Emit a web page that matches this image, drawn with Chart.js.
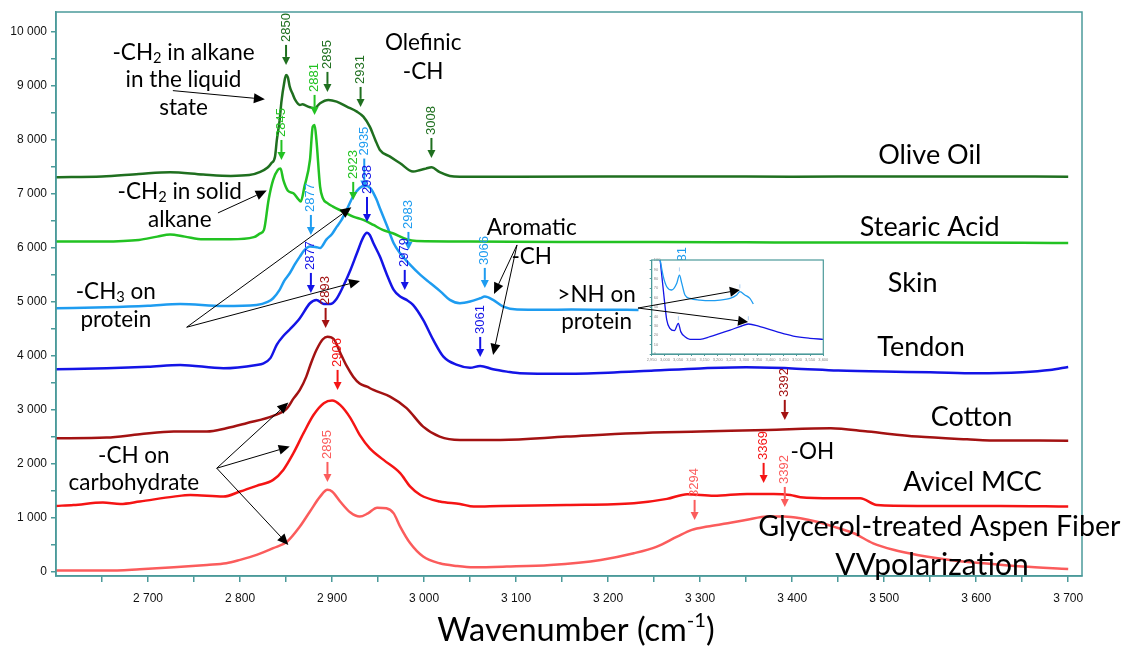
<!DOCTYPE html>
<html>
<head>
<meta charset="utf-8">
<script src="https://cdn.jsdelivr.net/npm/chart.js@4.4.1/dist/chart.umd.min.js"></script>
<style>
  html, body { margin: 0; padding: 0; background: #fff; }
  #wrap { position: relative; width: 1124px; height: 650px; }
  #main { position: absolute; left: 0; top: 0; }
  #inset { position: absolute; left: 630px; top: 255px; }
</style>
</head>
<body>
<div id="wrap">
  <canvas id="main" width="1124" height="650"></canvas>
  <canvas id="inset" width="200" height="110"></canvas>
</div>
<script>
// ---- Raman spectra, C-H / O-H stretching region (wavenumber, offset intensity) ----
const oliveWn  = [2600,2650,2690,2724,2760,2790,2810,2822,2830,2834,2838,2840,2843,2845,2848,2850,2852,2854,2857,2860,2865,2868,2871,2876,2881,2887,2896,2905,2916,2927,2934,2941,2947,2952,2963,2974,2988,2996,3002,3008,3017,3028,3039,3100,3200,3300,3400,3500,3600,3700];
const oliveInt = [7300,7315,7360,7393,7350,7325,7340,7400,7480,7560,7681,7991,8350,8700,9050,9194,9150,8978,8850,8731,8639,8650,8630,8596,8577,8670,8731,8700,8608,8515,8422,8237,7991,7806,7681,7559,7404,7435,7460,7485,7393,7324,7311,7310,7312,7315,7310,7315,7315,7311];

const stearicWn  = [2600,2650,2690,2710,2724,2740,2760,2790,2815,2822,2826,2831,2836,2841,2844,2847,2852,2858,2863,2866,2870,2876,2879,2881,2883,2887,2890,2895,2901,2912,2923,2934,2945,2955,2966,2981,2992,3050,3150,3250,3350,3450,3550,3650,3700];
const stearicInt = [6108,6110,6139,6200,6240,6200,6150,6150,6190,6260,6324,6880,7250,7435,7460,7250,7050,7003,6900,6849,7126,7620,8237,8269,7991,7126,6911,6820,6756,6663,6570,6509,6416,6324,6262,6151,6120,6110,6100,6100,6095,6090,6090,6085,6080];

const skinWn  = [2600,2655,2700,2735,2782,2818,2830,2836,2843,2848,2854,2860,2865,2870,2876,2882,2887,2894,2900,2905,2910,2916,2923,2930,2936,2942,2948,2952,2960,2967,2974,2985,2996,3007,3018,3028,3039,3050,3061,3066,3075,3086,3101,3130,3160,3200,3233];
const skinInt = [4873,4892,4920,4954,4917,4935,4990,5059,5213,5380,5522,5700,5830,5950,6015,6010,5990,6150,6250,6380,6500,6700,6950,7100,7140,7090,6900,6725,6386,6077,5892,5676,5491,5337,5182,5028,4966,4997,5059,5090,5028,4904,4850,4845,4850,4845,4843];

const tendonWn  = [2600,2655,2700,2735,2782,2818,2825,2833,2840,2847,2854,2865,2876,2883,2891,2898,2905,2912,2920,2927,2934,2938,2941,2945,2952,2959,2967,2974,2981,2988,2999,3010,3021,3036,3050,3061,3075,3090,3104,3150,3200,3250,3300,3350,3400,3450,3500,3550,3600,3650,3680,3700];
const tendonInt = [3744,3762,3790,3824,3762,3824,3850,3950,4200,4360,4480,4690,4966,5028,4954,4950,5050,5275,5583,5892,6190,6270,6230,6077,5830,5522,5213,5090,5028,4935,4657,4287,3978,3824,3770,3806,3744,3700,3670,3660,3680,3720,3760,3780,3760,3720,3700,3690,3670,3690,3730,3787];

const cottonWn  = [2600,2655,2691,2728,2764,2785,2807,2836,2851,2858,2865,2872,2877,2883,2890,2895,2902,2909,2916,2923,2930,2938,2945,2963,2981,2999,3017,3039,3083,3155,3228,3300,3373,3442,3482,3536,3590,3626,3700];
const cottonInt = [2466,2478,2540,2590,2590,2650,2744,2880,3020,3200,3360,3607,3850,4100,4300,4348,4300,4045,3800,3607,3480,3420,3360,3237,3025,2681,2496,2435,2435,2497,2559,2590,2620,2651,2590,2497,2447,2423,2422];

const avicelWn  = [2600,2619,2651,2670,2691,2728,2746,2782,2800,2818,2836,2847,2858,2869,2880,2891,2900,2909,2920,2930,2941,2956,2974,2985,2996,3017,3039,3054,3083,3155,3228,3264,3286,3315,3351,3380,3398,3409,3445,3474,3492,3536,3626,3700];
const avicelInt = [1213,1230,1275,1250,1295,1385,1415,1385,1480,1585,1695,1880,2190,2560,2900,3115,3165,3080,2840,2530,2280,2065,1820,1570,1415,1295,1250,1200,1213,1230,1262,1343,1430,1400,1435,1435,1415,1375,1355,1355,1230,1213,1213,1200];

const glycerolWn  = [2600,2655,2691,2728,2764,2785,2800,2818,2836,2851,2865,2876,2887,2895,2900,2909,2920,2930,2939,2949,2959,2967,2974,2985,2999,3017,3036,3054,3090,3137,3192,3228,3253,3275,3291,3308,3330,3351,3373,3391,3409,3427,3445,3467,3488,3510,3536,3572,3608,3650,3700];
const glycerolInt = [15,15,40,77,120,150,213,305,430,550,830,1110,1385,1510,1480,1290,1090,1015,1075,1180,1170,1075,830,520,275,150,100,77,90,120,213,336,460,645,770,830,890,955,1015,1015,985,920,830,707,520,400,305,213,150,90,46];

// zoomed view of the >NH band (skin and tendon)
const insetSkinWn    = [2982,2994,3007,3026,3045,3055,3064,3076,3095,3133,3171,3209,3247,3272,3284,3303,3322,3335];
const insetSkinInt   = [100,82.3,71.6,68.1,75.2,84.0,75.2,62.8,59.2,57.4,56.7,57.4,59.2,62.8,66.3,62.8,59.2,53.2];
const insetTendonWn  = [2982,2994,3007,3019,3036,3051,3060,3076,3095,3133,3171,3209,3247,3284,3316,3360,3423,3486,3549,3600];
const insetTendonInt = [100,68.1,36.2,27.3,24.8,32.6,23.8,18.4,15.6,15.6,18.4,22.0,25.5,29.1,31.9,29.1,23.8,19.1,16.7,15.6];
const insetPeakWn    = [3055,3284,3051,3316];
const insetPeakInt   = [90,72,38,38];

// axis ticks
const xMajorTicks = [2700,2800,2900,3000,3100,3200,3300,3400,3500,3600,3700];
const yMajorTicks = [0,1000,2000,3000,4000,5000,6000,7000,8000,9000,10000];

const seriesNames = ['Olive Oil','Stearic Acid','Skin','Tendon','Cotton','Avicel MCC','Glycerol-treated Aspen Fiber'];

const COLORS = {
  olive: '#1f6f1f', stearic: '#22c222', skin: '#1e9cf0', tendon: '#1414e6',
  cotton: '#a31212', avicel: '#f51414', glycerol: '#fb5c5c'
};
const AXIS_COLOR = '#4b9a9a';
const NUM_FONT = "'Liberation Sans', Arial, sans-serif";
const TXT_FONT = "Lato, 'Open Sans', sans-serif";

// peak position labels: wavenumber, intensity at the arrow tip
const peakMarks = [
  {wn: 2850, tip: 9380, c: 'olive'},
  {wn: 2895, tip: 8880, c: 'olive'},
  {wn: 2931, tip: 8602, c: 'olive'},
  {wn: 3008, tip: 7657, c: 'olive'},
  {wn: 2881, tip: 8454, c: 'stearic'},
  {wn: 2845, tip: 7620, c: 'stearic'},
  {wn: 2923, tip: 6880, c: 'stearic', len: 18},
  {wn: 2935, tip: 7090, c: 'skin', len: 30},
  {wn: 2877, tip: 6231, c: 'skin'},
  {wn: 2983, tip: 5954, c: 'skin', len: 18},
  {wn: 3066, tip: 5250, c: 'skin'},
  {wn: 3281, tip: 5046, c: 'skin'},
  {wn: 2938, tip: 6472, c: 'tendon', len: 25},
  {wn: 2877, tip: 5157, c: 'tendon'},
  {wn: 2979, tip: 5213, c: 'tendon'},
  {wn: 3061, tip: 3972, c: 'tendon'},
  {wn: 2893, tip: 4509, c: 'cotton'},
  {wn: 3392, tip: 2806, c: 'cotton'},
  {wn: 2906, tip: 3361, c: 'avicel'},
  {wn: 3369, tip: 1639, c: 'avicel'},
  {wn: 2895, tip: 1657, c: 'glycerol'},
  {wn: 3392, tip: 1194, c: 'glycerol'},
  {wn: 3294, tip: 954, c: 'glycerol'}
];

// band assignment notes
const notes = [
  {parts: ['-CH', {sub: '2'}, ' in alkane'], wn: 2738.6, val: 9602},
  {parts: ['in the liquid'], wn: 2738.6, val: 9102},
  {parts: ['state'], wn: 2738.6, val: 8583},
  {parts: ['Olefinic'], wn: 2999, val: 9787},
  {parts: ['-CH'], wn: 2999, val: 9250},
  {parts: ['-CH', {sub: '2'}, ' in solid'], wn: 2734.5, val: 7028},
  {parts: ['alkane'], wn: 2734.5, val: 6509},
  {parts: ['-CH', {sub: '3'}, ' on'], wn: 2665, val: 5176},
  {parts: ['protein'], wn: 2665, val: 4657},
  {parts: ['Aromatic'], wn: 3117, val: 6361},
  {parts: ['-CH'], wn: 3117, val: 5824},
  {parts: ['>NH on'], wn: 3187.5, val: 5120},
  {parts: ['protein'], wn: 3187.5, val: 4620},
  {parts: ['-CH on'], wn: 2684.6, val: 2139},
  {parts: ['carbohydrate'], wn: 2684.6, val: 1633},
  {parts: ['-OH'], wn: 3422, val: 2213}
];

// sample names beside each trace
const nameLabels = [
  {text: seriesNames[0], wn: 3549.5, val: 7713, size: 27},
  {text: seriesNames[1], wn: 3549.5, val: 6380, size: 27},
  {text: seriesNames[2], wn: 3531, val: 5343, size: 27},
  {text: seriesNames[3], wn: 3540, val: 4157, size: 27},
  {text: seriesNames[4], wn: 3595, val: 2861, size: 27},
  {text: seriesNames[5], wn: 3596, val: 1657, size: 27},
  {text: seriesNames[6], wn: 3560, val: 824, size: 28.6},
  {text: 'VVpolarization', wn: 3552, val: 120, size: 30}
];

// callout arrows from notes to bands
const pointers = [
  {from: [2727, 8904], to: [2827, 8744]},
  {from: [2776, 6639], to: [2829, 7052]},
  {from: [2742, 4522], to: [2921, 6744]},
  {from: [2742, 4522], to: [2930.4, 5380]},
  {from: [3101, 6046], to: [3076, 5139]},
  {from: [3101, 6046], to: [3075, 4009]},
  {from: [2774.7, 1911], to: [2852.5, 3126]},
  {from: [2774.7, 1911], to: [2854, 2311]},
  {from: [2774.7, 1911], to: [2852.5, 491]}
];
// arrows into the zoomed >NH view (its own axes)
const insetPointers = [
  {from: [2898, 48.9], to: [3284, 68.1]},
  {from: [2898, 48.9], to: [3315, 34.0]}
];

const toXY = (wn, iv) => wn.map((w, i) => ({x: w, y: iv[i]}));
const fmtNum = v => String(v).replace(/\B(?=(\d{3})+(?!\d))/g, ' ');

function drawArrow(ctx, x1, y1, x2, y2, head, halfW, width, color) {
  const a = Math.atan2(y2 - y1, x2 - x1);
  const bx = x2 - head * Math.cos(a), by = y2 - head * Math.sin(a);
  ctx.strokeStyle = color; ctx.fillStyle = color; ctx.lineWidth = width;
  ctx.beginPath(); ctx.moveTo(x1, y1); ctx.lineTo(bx, by); ctx.stroke();
  ctx.beginPath();
  ctx.moveTo(x2, y2);
  ctx.lineTo(bx + halfW * Math.sin(a), by - halfW * Math.cos(a));
  ctx.lineTo(bx - halfW * Math.sin(a), by + halfW * Math.cos(a));
  ctx.closePath(); ctx.fill();
}

// text with sub/superscript pieces
function drawRich(ctx, parts, x, y, size, align) {
  const pieces = parts.map(p => {
    if (typeof p === 'string') return {t: p, s: size, dy: 0};
    if (p.sub) return {t: p.sub, s: size * 0.65, dy: size * 0.22};
    return {t: p.sup, s: size * 0.62, dy: -size * 0.32};
  });
  let total = 0;
  pieces.forEach(p => { ctx.font = p.s + 'px ' + TXT_FONT; p.w = ctx.measureText(p.t).width; total += p.w; });
  let cx = align === 'left' ? x : x - total / 2;
  ctx.textAlign = 'left'; ctx.textBaseline = 'middle';
  pieces.forEach(p => {
    ctx.font = p.s + 'px ' + TXT_FONT;
    ctx.fillText(p.t, cx, y + p.dy);
    cx += p.w;
  });
}

const frameAndNotes = {
  id: 'frameAndNotes',
  afterDatasetsDraw(chart) {
    const {ctx, chartArea: a, scales: {x, y}} = chart;
    ctx.save();
    // plot frame
    ctx.strokeStyle = AXIS_COLOR; ctx.lineWidth = 1.5;
    ctx.strokeRect(a.left, a.top, a.right - a.left, a.bottom - a.top);

    // peak labels with down arrows
    peakMarks.forEach(m => {
      const px = x.getPixelForValue(m.wn);
      const tipY = y.getPixelForValue(m.tip);
      const len = m.len || 20;
      const col = COLORS[m.c];
      drawArrow(ctx, px, tipY - len, px, tipY, 8, 4, 2, col);
      ctx.save();
      ctx.translate(px, tipY - len - 3);
      ctx.rotate(-Math.PI / 2);
      ctx.font = '13px ' + NUM_FONT;
      ctx.fillStyle = col; ctx.textAlign = 'left'; ctx.textBaseline = 'middle';
      ctx.fillText(String(m.wn), 0, 0);
      ctx.restore();
    });

    // callout arrows
    pointers.forEach(p => {
      drawArrow(ctx, x.getPixelForValue(p.from[0]), y.getPixelForValue(p.from[1]),
        x.getPixelForValue(p.to[0]), y.getPixelForValue(p.to[1]), 11, 5, 1, '#000');
    });

    // notes and sample names
    ctx.fillStyle = '#000';
    notes.forEach(n => drawRich(ctx, n.parts, x.getPixelForValue(n.wn), y.getPixelForValue(n.val), 22.5, 'center'));
    nameLabels.forEach(n => drawRich(ctx, [n.text], x.getPixelForValue(n.wn), y.getPixelForValue(n.val), n.size, 'center'));

    // axis title
    drawRich(ctx, ['Wavenumber (cm', {sup: '-1'}, ')'], (a.left + a.right) / 2 + 7, 631, 32.5, 'center');
    ctx.restore();
  }
};

const line = (data, color) => ({
  data, borderColor: color, backgroundColor: color, borderWidth: 2.5,
  pointRadius: 0, fill: false, cubicInterpolationMode: 'monotone'
});

Chart.defaults.font.family = NUM_FONT;

new Chart(document.getElementById('main'), {
  type: 'line',
  data: {
    datasets: [
      line(toXY(oliveWn, oliveInt), COLORS.olive),
      line(toXY(stearicWn, stearicInt), COLORS.stearic),
      line(toXY(skinWn, skinInt), COLORS.skin),
      line(toXY(tendonWn, tendonInt), COLORS.tendon),
      line(toXY(cottonWn, cottonInt), COLORS.cotton),
      line(toXY(avicelWn, avicelInt), COLORS.avicel),
      line(toXY(glycerolWn, glycerolInt), COLORS.glycerol)
    ]
  },
  options: {
    responsive: false, animation: false, devicePixelRatio: 1,
    layout: {padding: {top: 12, right: 42, left: 0, bottom: 0}},
    plugins: {legend: {display: false}, tooltip: {enabled: false}},
    scales: {
      x: {
        type: 'linear', min: 2600, max: 3715,
        afterBuildTicks: s => {
          const t = [];
          xMajorTicks.forEach(m => { t.push({value: m - 50}); t.push({value: m}); });
          s.ticks = t;
        },
        afterFit: s => { s.height = 74; },
        grid: {drawOnChartArea: false, drawTicks: true, tickLength: 6, color: AXIS_COLOR, lineWidth: 1.5},
        border: {display: true, color: AXIS_COLOR, width: 1.5},
        ticks: {
          autoSkip: false, maxRotation: 0, padding: 9, color: '#111',
          font: {family: NUM_FONT, size: 12},
          callback: v => xMajorTicks.includes(v) ? fmtNum(v) : ''
        }
      },
      y: {
        type: 'linear', min: -85, max: 10360,
        afterBuildTicks: s => {
          const t = [];
          yMajorTicks.forEach(m => { t.push({value: m}); if (m < 10000) t.push({value: m + 500}); });
          s.ticks = t;
        },
        afterFit: s => { s.width = 56; },
        grid: {drawOnChartArea: false, drawTicks: true, tickLength: 5, color: AXIS_COLOR, lineWidth: 1.5},
        border: {display: true, color: AXIS_COLOR, width: 1.5},
        ticks: {
          autoSkip: false, padding: 4, color: '#111',
          font: {family: NUM_FONT, size: 12},
          callback: v => yMajorTicks.includes(v) ? fmtNum(v) : ''
        }
      }
    }
  },
  plugins: [frameAndNotes]
});

// zoomed >NH view
const insetFrame = {
  id: 'insetFrame',
  beforeDraw(chart) {
    const {ctx, chartArea: a} = chart;
    ctx.save(); ctx.fillStyle = '#fff';
    ctx.fillRect(a.left, a.top, a.right - a.left, a.bottom - a.top);
    ctx.restore();
  },
  afterDraw(chart) {
    const {ctx, chartArea: a, scales: {x, y}} = chart;
    ctx.save();
    ctx.strokeStyle = AXIS_COLOR; ctx.lineWidth = 1.2;
    ctx.strokeRect(a.left, a.top, a.right - a.left, a.bottom - a.top);
    insetPointers.forEach(p => {
      drawArrow(ctx, x.getPixelForValue(p.from[0]), y.getPixelForValue(p.from[1]),
        x.getPixelForValue(p.to[0]), y.getPixelForValue(p.to[1]), 10, 5, 1, '#000');
    });
    ctx.restore();
  }
};

new Chart(document.getElementById('inset'), {
  type: 'line',
  data: {
    datasets: [
      {data: toXY(insetPeakWn, insetPeakInt), showLine: false, pointStyle: 'line', rotation: 90,
       pointRadius: 2, borderWidth: 1, borderColor: '#a9cff5', backgroundColor: '#a9cff5'},
      {data: toXY(insetSkinWn, insetSkinInt), borderColor: COLORS.skin, borderWidth: 1.3,
       pointRadius: 0, cubicInterpolationMode: 'monotone'},
      {data: toXY(insetTendonWn, insetTendonInt), borderColor: COLORS.tendon, borderWidth: 1.3,
       pointRadius: 0, cubicInterpolationMode: 'monotone'}
    ]
  },
  options: {
    responsive: false, animation: false, devicePixelRatio: 1,
    layout: {padding: {left: 21.7, right: 6.7, top: 5, bottom: 0}},
    plugins: {legend: {display: false}, tooltip: {enabled: false}},
    scales: {
      x: {
        type: 'linear', min: 2950, max: 3600,
        afterFit: s => { s.height = 11; },
        grid: {drawOnChartArea: false, tickLength: 2, color: AXIS_COLOR},
        border: {color: AXIS_COLOR},
        ticks: {stepSize: 50, autoSkip: false, maxRotation: 0, padding: 1, color: '#8a8a8a', font: {size: 4}}
      },
      y: {
        type: 'linear', min: 0, max: 100,
        afterFit: s => { s.width = 0; },
        grid: {drawOnChartArea: false, tickLength: 2, color: AXIS_COLOR},
        border: {color: AXIS_COLOR},
        ticks: {stepSize: 10, mirror: true, padding: 2, color: '#8a8a8a', font: {size: 4}}
      }
    }
  },
  plugins: [insetFrame]
});
</script>
</body>
</html>
